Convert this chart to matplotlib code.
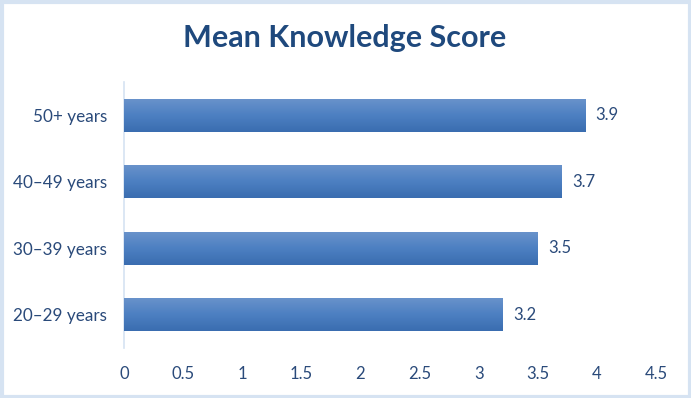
import numpy as np
import matplotlib.pyplot as plt
from matplotlib.colors import LinearSegmentedColormap
from matplotlib.patches import Rectangle

# data
groups = ['20\u201329 years', '30\u201339 years', '40\u201349 years', '50+ years']
scores = [3.2, 3.5, 3.7, 3.9]
xticks = [0, 0.5, 1, 1.5, 2, 2.5, 3, 3.5, 4, 4.5]

plt.rcParams['font.family'] = ['Lato', 'DejaVu Sans']

W, H = 691, 398
fig = plt.figure(figsize=(W / 100, H / 100), dpi=100)

# light blue frame around the chart
fig.patches.append(Rectangle((1.5 / W, 1.5 / H), 1 - 3 / W, 1 - 3 / H,
                             transform=fig.transFigure, fill=False,
                             edgecolor='#d6e3f2', linewidth=3))

# plot area in pixels: x 124..656, y 82..348 (from top)
ax = fig.add_axes([124 / W, 1 - 348 / H, (656 - 124) / W, (348 - 82) / H])

text_col = '#2a4a7a'
y = np.arange(len(groups))
bars = ax.barh(y, scores, height=0.5, color='#4a7cc0', edgecolor='none', zorder=2)

# vertical gradient on each bar, light at top
cmap = LinearSegmentedColormap.from_list('g', ['#3a6db0', '#4d80c2', '#6a93cb'])
grad = np.linspace(0, 1, 100).reshape(-1, 1)
for b in bars:
    x0, y0 = b.get_x(), b.get_y()
    im = ax.imshow(grad, cmap=cmap, aspect='auto', origin='lower',
                   extent=[x0, x0 + b.get_width(), y0, y0 + b.get_height()], zorder=3)
    im.set_clip_path(b)

for yi, v in zip(y, scores):
    ax.text(v + 0.09, yi, f'{v}', va='center', ha='left', fontsize=12, color=text_col)

ax.set_xlim(0, 4.5)
ax.set_ylim(-0.5, len(groups) - 0.5)
ax.set_xticks(xticks)
ax.set_xticklabels([f'{t:g}' for t in xticks])
ax.set_yticks(y)
ax.set_yticklabels(groups)
ax.tick_params(axis='both', length=0, labelsize=12, colors=text_col)
ax.tick_params(axis='y', labelsize=12.3, pad=12)
ax.tick_params(axis='x', pad=13)
for s in ['top', 'right', 'bottom']:
    ax.spines[s].set_visible(False)
ax.spines['left'].set_color('#d6e3f2')
ax.spines['left'].set_linewidth(1.2)

fig.text(345 / W, 1 - 38 / H, 'Mean Knowledge Score', ha='center', va='center',
         fontsize=22, fontweight='bold', color='#1f497d')

fig.savefig('out.png', dpi=100)
